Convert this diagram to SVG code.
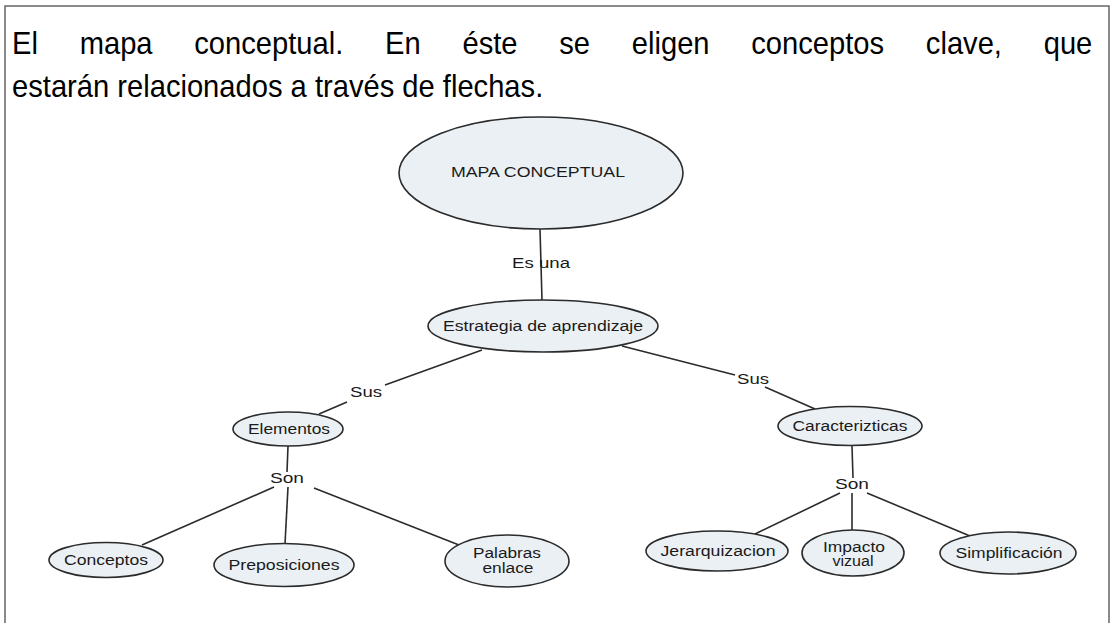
<svg xmlns="http://www.w3.org/2000/svg" width="1112" height="623" viewBox="0 0 1112 623">
<style>
.title{font-family:"Liberation Sans",Arial,sans-serif;font-size:31px;fill:#000}
.node ellipse{fill:#eaf0f4;stroke:#2b2b2b;stroke-width:1.6}
.node text,.lbl{font-family:"Liberation Sans",Arial,sans-serif;font-size:14px;fill:#1a1a1a;text-anchor:middle}
.conn line{stroke:#2b2b2b;stroke-width:1.6}
</style>
<rect x="0" y="0" width="1112" height="623" fill="#ffffff"/>
<path d="M5 623 V6 H1109 V623" fill="none" stroke="#666" stroke-width="1.5"/>
<g transform="scale(0.94,1)">
<text class="title" x="12.8" y="54" word-spacing="35.8">El mapa conceptual. En éste se eligen conceptos clave, que</text>
<text class="title" x="12.8" y="97">estarán relacionados a través de flechas.</text>
</g>

<g id="connectors" class="conn">
<line x1="540" y1="229" x2="542" y2="300"/>
<line x1="482" y1="350" x2="385" y2="385"/>
<line x1="347" y1="402" x2="319" y2="414"/>
<line x1="288" y1="446" x2="287" y2="472"/>
<line x1="274" y1="487" x2="142" y2="545"/>
<line x1="288" y1="487" x2="285" y2="544"/>
<line x1="314" y1="488" x2="459" y2="545"/>
<line x1="622" y1="346" x2="735" y2="375"/>
<line x1="765" y1="387" x2="815" y2="409"/>
<line x1="852" y1="446" x2="853" y2="478"/>
<line x1="840" y1="493" x2="755" y2="534"/>
<line x1="852" y1="493" x2="852" y2="530"/>
<line x1="867" y1="493" x2="970" y2="536"/>
<text class="lbl" x="541" y="268" textLength="58" lengthAdjust="spacingAndGlyphs">Es una</text>
<text class="lbl" x="366" y="397" textLength="32" lengthAdjust="spacingAndGlyphs">Sus</text>
<text class="lbl" x="287" y="483" textLength="34" lengthAdjust="spacingAndGlyphs">Son</text>
<text class="lbl" x="753" y="384" textLength="32" lengthAdjust="spacingAndGlyphs">Sus</text>
<text class="lbl" x="852" y="489" textLength="34" lengthAdjust="spacingAndGlyphs">Son</text>
</g>

<g id="mapa" class="node">
<ellipse cx="541" cy="173" rx="142" ry="56"/>
<text x="538" y="177" textLength="174" lengthAdjust="spacingAndGlyphs">MAPA CONCEPTUAL</text>
</g>
<g id="estrategia" class="node">
<ellipse cx="543" cy="326" rx="115" ry="26"/>
<text x="543" y="331" textLength="200" lengthAdjust="spacingAndGlyphs">Estrategia de aprendizaje</text>
</g>
<g id="elementos" class="node">
<ellipse cx="288" cy="429" rx="55" ry="17"/>
<text x="289" y="434" textLength="82" lengthAdjust="spacingAndGlyphs">Elementos</text>
</g>
<g id="caracterizticas" class="node">
<ellipse cx="850" cy="426" rx="72" ry="19.5"/>
<text x="850" y="431" textLength="115" lengthAdjust="spacingAndGlyphs">Caracterizticas</text>
</g>
<g id="conceptos" class="node">
<ellipse cx="106" cy="560" rx="57" ry="17.5"/>
<text x="106" y="565" textLength="84" lengthAdjust="spacingAndGlyphs">Conceptos</text>
</g>
<g id="preposiciones" class="node">
<ellipse cx="284" cy="565" rx="70" ry="21.5"/>
<text x="284" y="570" textLength="111" lengthAdjust="spacingAndGlyphs">Preposiciones</text>
</g>
<g id="palabras" class="node">
<ellipse cx="507" cy="561" rx="62" ry="26"/>
<text x="507" y="558" textLength="68" lengthAdjust="spacingAndGlyphs">Palabras</text>
<text x="508" y="573" textLength="51" lengthAdjust="spacingAndGlyphs">enlace</text>
</g>
<g id="jerarquizacion" class="node">
<ellipse cx="717" cy="551" rx="71" ry="20"/>
<text x="718" y="556" textLength="115" lengthAdjust="spacingAndGlyphs">Jerarquizacion</text>
</g>
<g id="impacto" class="node">
<ellipse cx="853" cy="553" rx="51" ry="23"/>
<text x="854" y="552" textLength="62" lengthAdjust="spacingAndGlyphs">Impacto</text>
<text x="853" y="566" textLength="41" lengthAdjust="spacingAndGlyphs">vizual</text>
</g>
<g id="simplificacion" class="node">
<ellipse cx="1008" cy="553" rx="68" ry="21"/>
<text x="1009" y="558" textLength="107" lengthAdjust="spacingAndGlyphs">Simplificación</text>
</g>
</svg>
